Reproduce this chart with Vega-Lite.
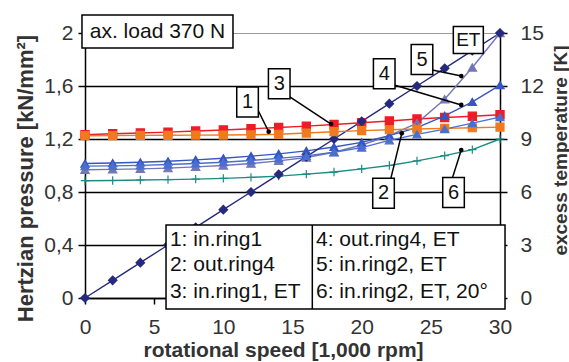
{
  "$schema": "https://vega.github.io/schema/vega-lite/v6.json",
  "width": 415,
  "height": 265,
  "autosize": {"type": "none"},
  "padding": {"left": 85, "top": 33, "right": 69, "bottom": 64},
  "background": "white",
  "config": {
    "view": {"stroke": null},
    "font": "Liberation Sans",
    "axis": {
      "labelFont": "Liberation Sans",
      "titleFont": "Liberation Sans",
      "labelFontSize": 21,
      "labelColor": "#333333",
      "titleColor": "#333333",
      "titleFontWeight": "bold",
      "domainColor": "black",
      "tickColor": "black",
      "domainWidth": 1.5,
      "tickWidth": 1.5,
      "grid": false
    }
  },
  "datasets": {
    "et": [
      {"speed":0,"series":"6","K":6.64},{"speed":2,"series":"6","K":6.65},{"speed":4,"series":"6","K":6.68},{"speed":6,"series":"6","K":6.7},{"speed":8,"series":"6","K":6.73},{"speed":10,"series":"6","K":6.77},{"speed":12,"series":"6","K":6.83},{"speed":14,"series":"6","K":6.9},{"speed":16,"series":"6","K":7.01},{"speed":18,"series":"6","K":7.13},{"speed":20,"series":"6","K":7.31},{"speed":22,"series":"6","K":7.5},{"speed":24,"series":"6","K":7.76},{"speed":26,"series":"6","K":8.06},{"speed":28,"series":"6","K":8.4},{"speed":30,"series":"6","K":9},
      {"speed":0,"series":"3","K":9.24},{"speed":2,"series":"3","K":9.3},{"speed":4,"series":"3","K":9.34},{"speed":6,"series":"3","K":9.39},{"speed":8,"series":"3","K":9.45},{"speed":10,"series":"3","K":9.51},{"speed":12,"series":"3","K":9.58},{"speed":14,"series":"3","K":9.65},{"speed":16,"series":"3","K":9.73},{"speed":18,"series":"3","K":9.82},{"speed":20,"series":"3","K":9.92},{"speed":22,"series":"3","K":10.02},{"speed":24,"series":"3","K":10.13},{"speed":26,"series":"3","K":10.22},{"speed":28,"series":"3","K":10.29},{"speed":30,"series":"3","K":10.37},
      {"speed":0,"series":"5","K":7.26},{"speed":2,"series":"5","K":7.28},{"speed":4,"series":"5","K":7.31},{"speed":6,"series":"5","K":7.35},{"speed":8,"series":"5","K":7.42},{"speed":10,"series":"5","K":7.5},{"speed":12,"series":"5","K":7.61},{"speed":14,"series":"5","K":7.76},{"speed":16,"series":"5","K":7.95},{"speed":18,"series":"5","K":8.25},{"speed":20,"series":"5","K":8.66},{"speed":22,"series":"5","K":9.19},{"speed":24,"series":"5","K":9.9},{"speed":26,"series":"5","K":11.25},{"speed":28,"series":"5","K":13.05},{"speed":30,"series":"5","K":15},
      {"speed":0,"series":"4","K":7.61},{"speed":2,"series":"4","K":7.64},{"speed":4,"series":"4","K":7.68},{"speed":6,"series":"4","K":7.74},{"speed":8,"series":"4","K":7.82},{"speed":10,"series":"4","K":7.91},{"speed":12,"series":"4","K":8.03},{"speed":14,"series":"4","K":8.16},{"speed":16,"series":"4","K":8.33},{"speed":18,"series":"4","K":8.55},{"speed":20,"series":"4","K":8.81},{"speed":22,"series":"4","K":9.19},{"speed":24,"series":"4","K":9.64},{"speed":26,"series":"4","K":10.31},{"speed":28,"series":"4","K":11.1},{"speed":30,"series":"4","K":12.05},
      {"speed":0,"series":"ET","K":0},{"speed":2,"series":"ET","K":1},{"speed":4,"series":"ET","K":2},{"speed":6,"series":"ET","K":3},{"speed":8,"series":"ET","K":4},{"speed":10,"series":"ET","K":5},{"speed":12,"series":"ET","K":6},{"speed":14,"series":"ET","K":7},{"speed":16,"series":"ET","K":8},{"speed":18,"series":"ET","K":9},{"speed":20,"series":"ET","K":10},{"speed":22,"series":"ET","K":11},{"speed":24,"series":"ET","K":12},{"speed":26,"series":"ET","K":13},{"speed":28,"series":"ET","K":14},{"speed":30,"series":"ET","K":15}
    ],
    "pressure": [
      {"speed":0,"series":"1","p":1.225},{"speed":2,"series":"1","p":1.226},{"speed":4,"series":"1","p":1.227},{"speed":6,"series":"1","p":1.228},{"speed":8,"series":"1","p":1.229},{"speed":10,"series":"1","p":1.23},{"speed":12,"series":"1","p":1.232},{"speed":14,"series":"1","p":1.236},{"speed":16,"series":"1","p":1.245},{"speed":18,"series":"1","p":1.255},{"speed":20,"series":"1","p":1.263},{"speed":22,"series":"1","p":1.27},{"speed":24,"series":"1","p":1.275},{"speed":26,"series":"1","p":1.28},{"speed":28,"series":"1","p":1.285},{"speed":30,"series":"1","p":1.29},
      {"speed":0,"series":"2","p":0.995},{"speed":2,"series":"2","p":0.997},{"speed":4,"series":"2","p":1.001},{"speed":6,"series":"2","p":1.007},{"speed":8,"series":"2","p":1.015},{"speed":10,"series":"2","p":1.025},{"speed":12,"series":"2","p":1.038},{"speed":14,"series":"2","p":1.054},{"speed":16,"series":"2","p":1.073},{"speed":18,"series":"2","p":1.1},{"speed":20,"series":"2","p":1.135},{"speed":22,"series":"2","p":1.19},{"speed":24,"series":"2","p":1.235},{"speed":26,"series":"2","p":1.275},{"speed":28,"series":"2","p":1.32},{"speed":30,"series":"2","p":1.365}
    ],
    "leaders": [
      {"fromX":12.5,"fromY":1.419,"toX":13.28,"toY":1.255},
      {"fromX":14.78,"fromY":1.519,"toX":17.79,"toY":1.313},
      {"fromX":22.35,"fromY":1.608,"toX":27.2,"toY":1.457},
      {"fromX":25.11,"fromY":1.721,"toX":27.2,"toY":1.675},
      {"fromX":22.11,"fromY":0.903,"toX":22.9,"toY":1.243},
      {"fromX":26.55,"fromY":0.903,"toX":27.2,"toY":1.117}
    ],
    "callouts": [
      {"x":11.75,"y":1.479,"label":"1"},
      {"x":14.04,"y":1.617,"label":"3"},
      {"x":21.63,"y":1.692,"label":"4"},
      {"x":24.36,"y":1.8,"label":"5"},
      {"x":21.58,"y":0.79,"label":"2"},
      {"x":26.64,"y":0.796,"label":"6"}
    ],
    "etnote": [{"x":27.71,"y":1.947,"label":"ET"}],
    "loadnote": [{"x":5.24,"y":2.011,"label":"ax. load 370 N"}],
    "legendbox": [{"x":18.11,"y":0.234}],
    "legendtext": [
      {"x":6.14,"y":0.438,"label":"1: in.ring1"},
      {"x":6.14,"y":0.249,"label":"2: out.ring4"},
      {"x":6.14,"y":0.048,"label":"3: in.ring1, ET"},
      {"x":16.7,"y":0.438,"label":"4: out.ring4, ET"},
      {"x":16.7,"y":0.249,"label":"5: in.ring2, ET"},
      {"x":16.7,"y":0.048,"label":"6: in.ring2, ET, 20°"}
    ]
  },
  "resolve": {"scale": {"y": "independent"}},
  "layer": [
    {
      "data": {"name": "et"},
      "layer": [
        {
          "mark": {"type": "line", "strokeWidth": 1.4},
          "encoding": {
            "x": {"field": "speed", "type": "quantitative", "scale": {"domain": [0, 30], "nice": false, "zero": false}, "title": "rotational speed [1,000 rpm]",
              "axis": {"orient": "bottom", "values": [0, 5, 10, 15, 20, 25, 30], "tickSize": 6, "labelPadding": 12, "labelFlush": false, "titleFontSize": 21, "titleX": 198, "titleY": 52, "titleBaseline": "middle"}},
            "y": {"field": "K", "type": "quantitative", "scale": {"domain": [0, 15], "nice": false}, "title": "excess temperature [K]",
              "axis": {"orient": "right", "values": [0, 3, 6, 9, 12, 15], "grid": false, "tickSize": 7, "labelPadding": 13, "titleFontSize": 19, "titleX": 60, "titleY": 117, "titleBaseline": "middle", "titleAngle": 270}},
            "color": {"field": "series", "type": "nominal", "scale": {"domain": ["1","2","3","4","5","6","ET"], "range": ["#f07a1e","#4a6fd0","#ee1c25","#3656c0","#7376b8","#1b8c84","#262a7e"]}, "legend": null}
          }
        },
        {
          "mark": {"type": "point", "filled": true, "opacity": 1, "strokeWidth": 1.2},
          "encoding": {
            "x": {"field": "speed", "type": "quantitative", "title": "rotational speed [1,000 rpm]"},
            "y": {"field": "K", "type": "quantitative", "title": "excess temperature [K]"},
            "color": {"field": "series", "type": "nominal", "scale": {"domain": ["1","2","3","4","5","6","ET"], "range": ["#f07a1e","#4a6fd0","#ee1c25","#3656c0","#7376b8","#1b8c84","#262a7e"]}, "legend": null},
            "stroke": {"field": "series", "type": "nominal", "scale": {"domain": ["1","2","3","4","5","6","ET"], "range": ["#f07a1e","#4a6fd0","#ee1c25","#3656c0","#7376b8","#1b8c84","#262a7e"]}, "legend": null},
            "shape": {"field": "series", "type": "nominal", "scale": {"domain": ["1","2","3","4","5","6","ET"], "range": ["square","triangle-up","square","triangle-up","triangle-up","M-1,0H1M0,-1V1","diamond"]}, "legend": null},
            "size": {"field": "series", "type": "nominal", "scale": {"domain": ["1","2","3","4","5","6","ET"], "range": [64,72,64,72,72,90,38]}, "legend": null}
          }
        }
      ]
    },
    {
      "layer": [
        {
          "data": {"name": "pressure"},
          "mark": {"type": "line", "strokeWidth": 1.4},
          "encoding": {
            "x": {"field": "speed", "type": "quantitative", "scale": {"domain": [0, 30], "nice": false, "zero": false}, "title": "rotational speed [1,000 rpm]"},
            "y": {"field": "p", "type": "quantitative", "scale": {"domain": [0, 2], "nice": false}, "title": "Hertzian pressure [kN/mm²]",
              "axis": {"orient": "left", "values": [0, 0.4, 0.8, 1.2, 1.6, 2], "labelExpr": "replace(format(datum.value, '~g'), '.', ',')", "grid": true, "gridColor": {"condition": {"test": "datum.value == 2", "value": "#9a9a9a"}, "value": "black"}, "gridWidth": {"condition": {"test": "datum.value == 2", "value": 1}, "value": 1.5}, "tickSize": 7, "labelPadding": 5, "titleFontSize": 22, "titleX": -60, "titleY": 145, "titleBaseline": "middle", "titleAngle": 270}},
            "color": {"field": "series", "type": "nominal", "scale": {"domain": ["1","2","3","4","5","6","ET"], "range": ["#f07a1e","#4a6fd0","#ee1c25","#3656c0","#7376b8","#1b8c84","#262a7e"]}, "legend": null}
          }
        },
        {
          "data": {"name": "pressure"},
          "mark": {"type": "point", "filled": true, "opacity": 1, "strokeWidth": 1.2},
          "encoding": {
            "x": {"field": "speed", "type": "quantitative", "title": "rotational speed [1,000 rpm]"},
            "y": {"field": "p", "type": "quantitative", "title": "Hertzian pressure [kN/mm²]"},
            "color": {"field": "series", "type": "nominal", "scale": {"domain": ["1","2","3","4","5","6","ET"], "range": ["#f07a1e","#4a6fd0","#ee1c25","#3656c0","#7376b8","#1b8c84","#262a7e"]}, "legend": null},
            "stroke": {"field": "series", "type": "nominal", "scale": {"domain": ["1","2","3","4","5","6","ET"], "range": ["#f07a1e","#4a6fd0","#ee1c25","#3656c0","#7376b8","#1b8c84","#262a7e"]}, "legend": null},
            "shape": {"field": "series", "type": "nominal", "scale": {"domain": ["1","2","3","4","5","6","ET"], "range": ["square","triangle-up","square","triangle-up","triangle-up","M-1,0H1M0,-1V1","diamond"]}, "legend": null},
            "size": {"field": "series", "type": "nominal", "scale": {"domain": ["1","2","3","4","5","6","ET"], "range": [64,72,64,72,72,90,38]}, "legend": null}
          }
        },
        {
          "data": {"name": "leaders"},
          "mark": {"type": "rule", "color": "black", "strokeWidth": 1.5},
          "encoding": {
            "x": {"field": "fromX", "type": "quantitative", "title": "rotational speed [1,000 rpm]"},
            "y": {"field": "fromY", "type": "quantitative", "title": "Hertzian pressure [kN/mm²]"},
            "x2": {"field": "toX"},
            "y2": {"field": "toY"}
          }
        },
        {
          "data": {"name": "leaders"},
          "mark": {"type": "point", "filled": true, "color": "black", "opacity": 1, "size": 22},
          "encoding": {
            "x": {"field": "toX", "type": "quantitative", "title": "rotational speed [1,000 rpm]"},
            "y": {"field": "toY", "type": "quantitative", "title": "Hertzian pressure [kN/mm²]"}
          }
        },
        {
          "data": {"name": "callouts"},
          "mark": {"type": "point", "shape": "M-0.72,-1H0.72V1H-0.72Z", "size": 900, "filled": true, "fill": "white", "stroke": "black", "strokeWidth": 1.5, "opacity": 1},
          "encoding": {
            "x": {"field": "x", "type": "quantitative", "title": "rotational speed [1,000 rpm]"},
            "y": {"field": "y", "type": "quantitative", "title": "Hertzian pressure [kN/mm²]"}
          }
        },
        {
          "data": {"name": "callouts"},
          "mark": {"type": "text", "font": "Liberation Sans", "fontSize": 20, "color": "#111111", "align": "center", "baseline": "middle"},
          "encoding": {
            "x": {"field": "x", "type": "quantitative", "title": "rotational speed [1,000 rpm]"},
            "y": {"field": "y", "type": "quantitative", "title": "Hertzian pressure [kN/mm²]"},
            "text": {"field": "label"}
          }
        },
        {
          "data": {"name": "etnote"},
          "mark": {"type": "point", "shape": "M-1,-0.9H1V0.9H-1Z", "size": 900, "filled": true, "fill": "white", "stroke": "black", "strokeWidth": 1.5, "opacity": 1},
          "encoding": {
            "x": {"field": "x", "type": "quantitative", "title": "rotational speed [1,000 rpm]"},
            "y": {"field": "y", "type": "quantitative", "title": "Hertzian pressure [kN/mm²]"}
          }
        },
        {
          "data": {"name": "etnote"},
          "mark": {"type": "text", "font": "Liberation Sans", "fontSize": 19, "color": "#111111", "align": "center", "baseline": "middle"},
          "encoding": {
            "x": {"field": "x", "type": "quantitative", "title": "rotational speed [1,000 rpm]"},
            "y": {"field": "y", "type": "quantitative", "title": "Hertzian pressure [kN/mm²]"},
            "text": {"field": "label"}
          }
        },
        {
          "data": {"name": "loadnote"},
          "mark": {"type": "point", "shape": "M-1,-0.2185H1V0.2185H-1Z", "size": 22801, "filled": true, "fill": "white", "stroke": "black", "strokeWidth": 1.5, "opacity": 1},
          "encoding": {
            "x": {"field": "x", "type": "quantitative", "title": "rotational speed [1,000 rpm]"},
            "y": {"field": "y", "type": "quantitative", "title": "Hertzian pressure [kN/mm²]"}
          }
        },
        {
          "data": {"name": "loadnote"},
          "mark": {"type": "text", "font": "Liberation Sans", "fontSize": 21, "color": "#111111", "align": "center", "baseline": "middle"},
          "encoding": {
            "x": {"field": "x", "type": "quantitative", "title": "rotational speed [1,000 rpm]"},
            "y": {"field": "y", "type": "quantitative", "title": "Hertzian pressure [kN/mm²]"},
            "text": {"field": "label"}
          }
        },
        {
          "data": {"name": "legendbox"},
          "mark": {"type": "point", "shape": "M-1,-0.2478H1V0.2478H-1ZM-0.1369,-0.2478V0.2478", "size": 114921, "filled": true, "fill": "white", "stroke": "black", "strokeWidth": 1.5, "opacity": 1},
          "encoding": {
            "x": {"field": "x", "type": "quantitative", "title": "rotational speed [1,000 rpm]"},
            "y": {"field": "y", "type": "quantitative", "title": "Hertzian pressure [kN/mm²]"}
          }
        },
        {
          "data": {"name": "legendtext"},
          "mark": {"type": "text", "font": "Liberation Sans", "fontSize": 21, "color": "#111111", "align": "left", "baseline": "middle"},
          "encoding": {
            "x": {"field": "x", "type": "quantitative", "title": "rotational speed [1,000 rpm]"},
            "y": {"field": "y", "type": "quantitative", "title": "Hertzian pressure [kN/mm²]"},
            "text": {"field": "label"}
          }
        }
      ]
    }
  ]
}
